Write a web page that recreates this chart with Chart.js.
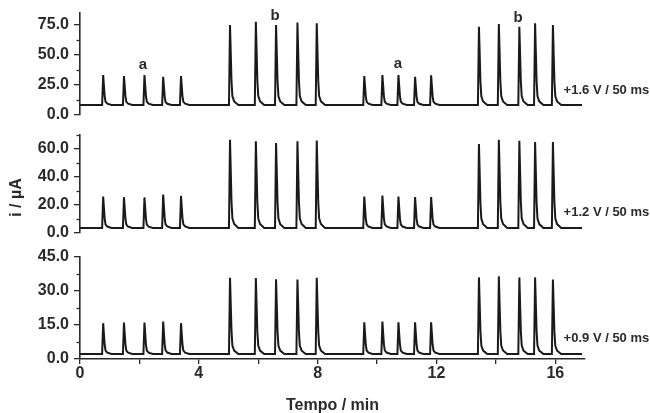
<!DOCTYPE html>
<html>
<head>
<meta charset="utf-8">
<script src="https://cdn.jsdelivr.net/npm/chart.js@4"></script>
<style>
  html, body { margin: 0; padding: 0; background: #fff; }
  #wrap { position: relative; width: 650px; height: 413px; }
  .panel { position: absolute; left: 0; width: 650px; }
</style>
</head>
<body>
<div id="wrap">
  <div class="panel" style="top:0;height:128px"><canvas id="c1"></canvas></div>
  <div class="panel" style="top:122px;height:124px"><canvas id="c2"></canvas></div>
  <div class="panel" style="top:244px;height:169px"><canvas id="c3"></canvas></div>
</div>
<script>
// peak times (min), same injections in every trace
const peakTimes = [0.78, 1.48, 2.17, 2.80, 3.40, 5.05, 5.92, 6.60, 7.32, 7.97,
                   9.57, 10.18, 10.72, 11.28, 11.82, 13.43, 14.10, 14.79, 15.32, 15.92];
// peak heights (uA) for each potential
const peaks16 = [33.3, 32.5, 33.3, 31.9, 32.5, 75.0, 77.7, 75.0, 77.0, 76.4,
                 32.5, 33.3, 33.3, 31.9, 33.0, 73.6, 75.8, 73.6, 76.4, 75.0];
const peaks12 = [26.0, 25.6, 25.4, 27.5, 26.5, 66.6, 65.5, 64.3, 65.5, 66.0,
                 26.0, 26.7, 26.0, 25.7, 25.7, 63.6, 66.6, 65.9, 65.0, 65.0];
const peaks09 = [15.8, 16.1, 16.1, 16.5, 15.8, 35.8, 35.7, 35.2, 35.1, 35.8,
                 16.2, 16.5, 16.2, 16.2, 16.2, 36.0, 36.5, 36.0, 36.0, 35.1];
const baselines = [8.3, 3.6, 2.2];
const traceEnd = 16.9;
const potentialLabels = ['+1.6 V / 50 ms', '+1.2 V / 50 ms', '+0.9 V / 50 ms'];
const xTicks = [0, 4, 8, 12, 16];

// shape of one peak: [offset in min, fraction of height above baseline]
const peakShape = [[-0.035, 0], [0, 1], [0.05, 0.3], [0.08, 0.11], [0.14, 0.045], [0.28, 0]];

function buildTrace(heights, base) {
    const pts = [{x: 0, y: base}];
    peakTimes.forEach((t, i) => {
        peakShape.forEach(([dt, f]) => {
            pts.push({x: t + dt, y: base + f * (heights[i] - base)});
        });
    });
    pts.push({x: traceEnd, y: base});
    return pts;
}

const ink = '#2a2a2a';
const tickFont = {family: 'Liberation Sans, Arial', size: 16, weight: 'bold', lineHeight: 1};
const isMajor = (v, step) => Math.abs(v / step - Math.round(v / step)) < 1e-6;

// text labels placed in data units, plus the short minor ticks of the y axis
const notesPlugin = {
    id: 'notes',
    afterDraw(chart) {
        const ctx = chart.ctx;
        const ys = chart.scales.y;
        const major = chart.options.plugins.majorStep;
        ctx.save();
        ctx.strokeStyle = ink;
        ctx.lineWidth = 1.3;
        ys.ticks.forEach(t => {
            if (isMajor(t.value, major)) return;
            const py = Math.round(ys.getPixelForValue(t.value)) + 0.5;
            ctx.beginPath();
            ctx.moveTo(ys.right - 3.5, py);
            ctx.lineTo(ys.right, py);
            ctx.stroke();
        });
        ctx.fillStyle = ink;
        ctx.textBaseline = 'middle';
        (chart.options.plugins.notes || []).forEach(n => {
            ctx.font = n.font;
            ctx.textAlign = n.align || 'center';
            ctx.fillText(n.text, chart.scales.x.getPixelForValue(n.x), ys.getPixelForValue(n.y));
        });
        if (chart.options.plugins.yTitle) {
            const t = chart.options.plugins.yTitle;
            ctx.translate(t.x, t.y);
            ctx.rotate(-Math.PI / 2);
            ctx.textAlign = 'center';
            ctx.font = 'bold 16px Liberation Sans, Arial';
            ctx.fillText(t.text, 0, 0);
        }
        ctx.restore();
    }
};

function makePanel(id, heights, base, yMax, minor, major, pad, notes, showX, yTitle) {
    const ctx = document.getElementById(id).getContext('2d');
    return new Chart(ctx, {
        type: 'line',
        data: {
            datasets: [{
                data: buildTrace(heights, base),
                borderColor: '#1a1a1a',
                borderWidth: 2,
                pointRadius: 0,
                tension: 0,
                fill: false
            }]
        },
        options: {
            responsive: true,
            maintainAspectRatio: false,
            animation: false,
            layout: {padding: pad},
            plugins: {
                legend: {display: false},
                tooltip: {enabled: false},
                notes: notes,
                yTitle: yTitle,
                majorStep: major
            },
            scales: {
                x: {
                    type: 'linear',
                    display: showX,
                    min: 0,
                    max: 17,
                    afterFit: s => { if (showX) s.height = 54; },
                    ticks: {
                        stepSize: 2,
                        includeBounds: false,
                        autoSkip: false,
                        color: ink,
                        font: tickFont,
                        padding: 2,
                        maxRotation: 0,
                        callback: v => xTicks.includes(v) ? String(v) : ''
                    },
                    grid: {drawOnChartArea: false, drawTicks: true, tickLength: 5, color: ink, lineWidth: 1.3},
                    border: {display: true, color: ink, width: 1.6},
                    title: {
                        display: true,
                        text: 'Tempo / min',
                        color: ink,
                        font: {family: 'Liberation Sans, Arial', size: 16, weight: 'bold', lineHeight: 1},
                        padding: {top: 0, bottom: -1}
                    }
                },
                y: {
                    min: 0,
                    max: yMax,
                    afterFit: s => { s.width = 80; },
                    ticks: {
                        stepSize: minor,
                        includeBounds: false,
                        autoSkip: false,
                        color: ink,
                        font: tickFont,
                        padding: 5,
                        callback: v => isMajor(v, major) ? v.toFixed(1) : ''
                    },
                    grid: {
                        drawOnChartArea: false,
                        drawTicks: true,
                        tickLength: 6,
                        color: ink,
                        tickColor: c => (c.tick && isMajor(c.tick.value, major)) ? ink : 'rgba(0,0,0,0)',
                        lineWidth: 1.3
                    },
                    border: {display: true, color: ink, width: 1.6}
                }
            }
        },
        plugins: [notesPlugin]
    });
}

const labelFont = 'bold 13px Liberation Sans, Arial';
const letterFont = 'bold 15px Liberation Sans, Arial';

makePanel('c1', peaks16, baselines[0], 85, 12.5, 25,
    {top: 13, bottom: 13, left: 0, right: 65},
    [
        {x: 2.12, y: 41.7, text: 'a', font: letterFont},
        {x: 10.7, y: 43, text: 'a', font: letterFont},
        {x: 6.57, y: 83, text: 'b', font: letterFont},
        {x: 14.75, y: 81, text: 'b', font: letterFont},
        {x: 16.28, y: 20.8, text: potentialLabels[0], font: labelFont, align: 'left'}
    ], false, null);

makePanel('c2', peaks12, baselines[1], 70, 10, 20,
    {top: 13, bottom: 13, left: 0, right: 65},
    [
        {x: 16.28, y: 14.5, text: potentialLabels[1], font: labelFont, align: 'left'}
    ], false, {x: 17, y: 75.5, text: 'i / µA'});

makePanel('c3', peaks09, baselines[2], 45, 7.5, 15,
    {top: 13, bottom: 0, left: 0, right: 65},
    [
        {x: 16.28, y: 8.9, text: potentialLabels[2], font: labelFont, align: 'left'}
    ], true, null);
</script>
</body>
</html>
